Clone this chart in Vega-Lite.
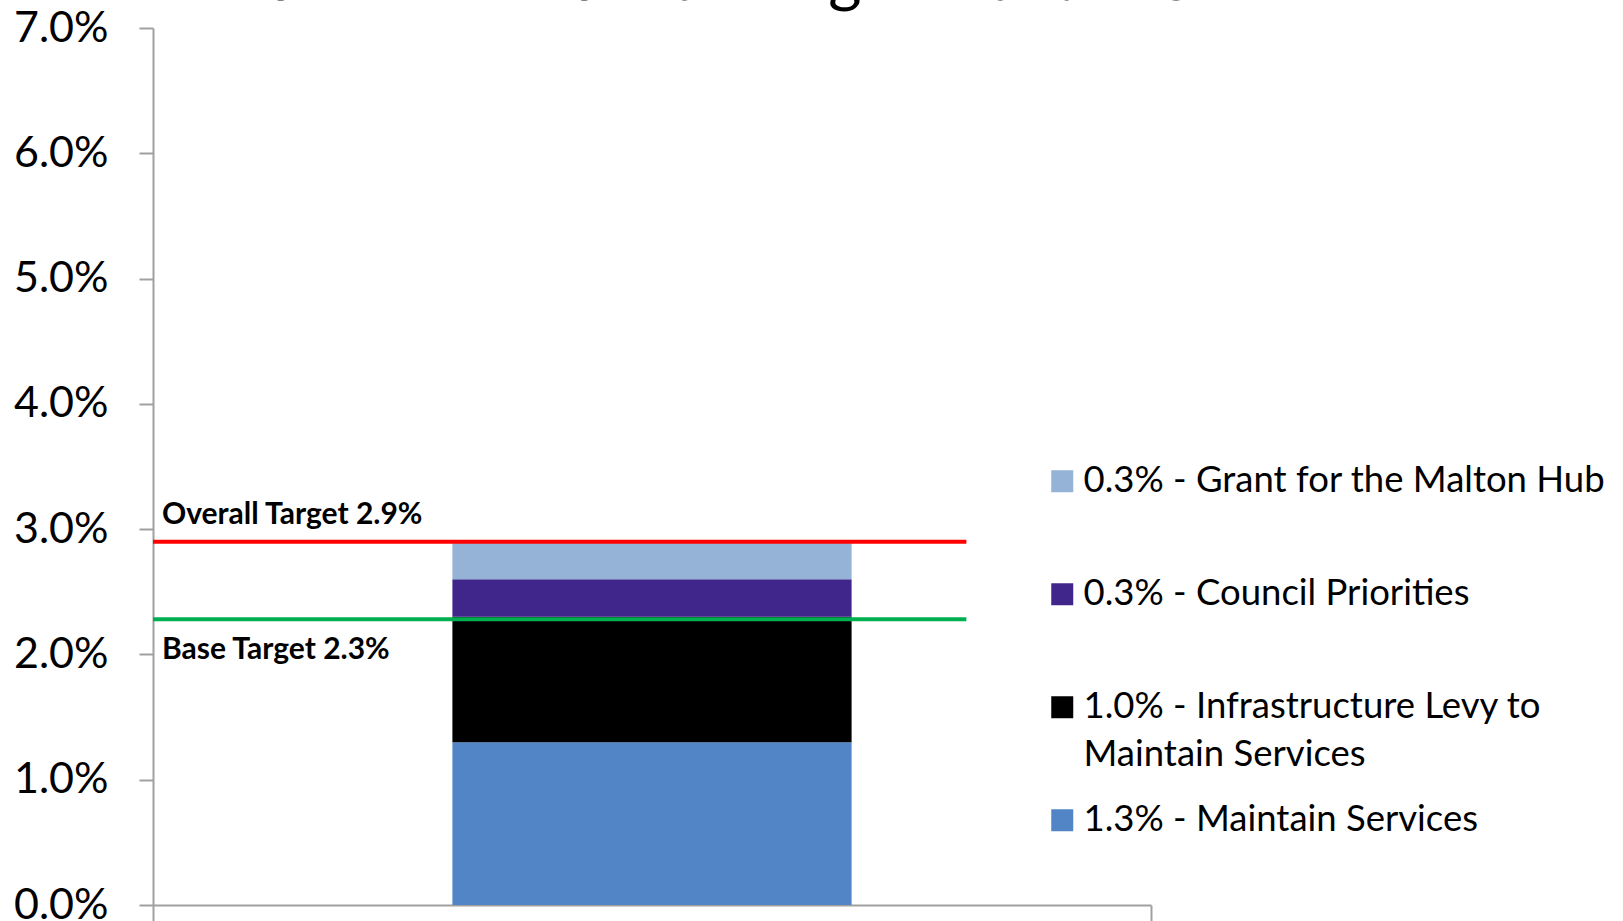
{
  "$schema": "https://vega.github.io/schema/vega-lite/v6.json",
  "width": 998,
  "height": 877,
  "autosize": "none",
  "padding": {"left": 153, "top": 28, "right": 472, "bottom": 16},
  "background": "white",
  "title": {
    "text": "all Provincial Funding Reductions",
    "font": "Lato",
    "fontSize": 64,
    "fontWeight": "normal",
    "color": "black",
    "anchor": "middle",
    "frame": "group",
    "baseline": "alphabetic",
    "offset": 2,
    "dx": 78,
    "dy": 59
  },
  "datasets": {
    "segments": [
      {"cat": "2013", "component": "1.3% - Maintain Services", "value": 0.013, "ord": 1},
      {"cat": "2013", "component": "1.0% - Infrastructure Levy to Maintain Services", "value": 0.010, "ord": 2},
      {"cat": "2013", "component": "0.3% - Council Priorities", "value": 0.003, "ord": 3},
      {"cat": "2013", "component": "0.3% - Grant for the Malton Hub", "value": 0.003, "ord": 4}
    ],
    "targets": [
      {"name": "Overall Target 2.9%", "value": 0.029, "start": 0, "end": 0.815},
      {"name": "Base Target 2.3%", "value": 0.0228, "start": 0, "end": 0.815}
    ]
  },
  "config": {
    "view": {"stroke": null},
    "axis": {"grid": false}
  },
  "resolve": {"scale": {"x": "independent", "color": "independent"}},
  "layer": [
    {
      "data": {"name": "segments"},
      "mark": {"type": "bar"},
      "encoding": {
        "x": {
          "field": "cat", "type": "nominal",
          "scale": {"paddingInner": 0.6, "paddingOuter": 0.3},
          "axis": null
        },
        "y": {
          "field": "value", "type": "quantitative", "stack": "zero",
          "scale": {"domain": [0, 0.07], "nice": false, "zero": true},
          "axis": {
            "values": [0, 0.01, 0.02, 0.03, 0.04, 0.05, 0.06, 0.07],
            "format": ".1%",
            "title": null,
            "labelFont": "Lato",
            "labelFontSize": 43,
            "labelColor": "black",
            "labelPadding": 31,
            "tickSize": 14,
            "tickColor": "#a0a0a0",
            "tickWidth": 2,
            "domainColor": "#a0a0a0",
            "domainWidth": 2,
            "labelFlush": false
          }
        },
        "order": {"field": "ord", "type": "quantitative", "sort": "ascending"},
        "color": {
          "field": "component", "type": "nominal",
          "scale": {
            "domain": [
              "0.3% - Grant for the Malton Hub",
              "0.3% - Council Priorities",
              "1.0% - Infrastructure Levy to Maintain Services",
              "1.3% - Maintain Services"
            ],
            "range": ["#95B3D7", "#40268A", "#000000", "#5185C5"]
          },
          "legend": {
            "title": null,
            "orient": "none",
            "legendX": 891,
            "legendY": 435,
            "padding": 0,
            "symbolType": "square",
            "symbolSize": 484,
            "symbolStrokeWidth": 0,
            "labelFont": "Lato",
            "labelFontSize": 36.5,
            "labelColor": "black",
            "labelOffset": 3,
            "labelLimit": 0,
            "rowPadding": 28,
            "labelExpr": "datum.label == '1.0% - Infrastructure Levy to Maintain Services' ? ['1.0% - Infrastructure Levy to', 'Maintain Services'] : [datum.label, '']",
            "encode": {
              "labels": {
                "update": {
                  "lineHeight": {"value": 48}
                }
              }
            }
          }
        }
      }
    },
    {
      "data": {"name": "targets"},
      "mark": {"type": "rule", "strokeWidth": 4},
      "encoding": {
        "x": {
          "field": "start", "type": "quantitative",
          "scale": {"domain": [0, 1], "nice": false},
          "axis": {
            "values": [0, 1],
            "labels": false,
            "title": null,
            "tickSize": 20,
            "tickColor": "#a0a0a0",
            "tickWidth": 2,
            "domainColor": "#a0a0a0",
            "domainWidth": 2
          }
        },
        "x2": {"field": "end"},
        "y": {"field": "value", "type": "quantitative"},
        "color": {
          "field": "name", "type": "nominal",
          "scale": {"domain": ["Overall Target 2.9%", "Base Target 2.3%"], "range": ["#FF0000", "#00B050"]},
          "legend": null
        }
      }
    },
    {
      "data": {"name": "targets"},
      "transform": [{"filter": "datum.name == 'Overall Target 2.9%'"}],
      "mark": {"type": "text", "font": "Lato", "fontSize": 30, "fontWeight": "bold", "color": "black", "align": "left", "baseline": "middle", "dx": 9, "dy": -27},
      "encoding": {
        "x": {"field": "start", "type": "quantitative", "scale": {"domain": [0, 1], "nice": false}, "axis": null},
        "y": {"field": "value", "type": "quantitative"},
        "text": {"field": "name"}
      }
    },
    {
      "data": {"name": "targets"},
      "transform": [{"filter": "datum.name == 'Base Target 2.3%'"}],
      "mark": {"type": "text", "font": "Lato", "fontSize": 30, "fontWeight": "bold", "color": "black", "align": "left", "baseline": "middle", "dx": 9, "dy": 31},
      "encoding": {
        "x": {"field": "start", "type": "quantitative", "scale": {"domain": [0, 1], "nice": false}, "axis": null},
        "y": {"field": "value", "type": "quantitative"},
        "text": {"field": "name"}
      }
    }
  ]
}
